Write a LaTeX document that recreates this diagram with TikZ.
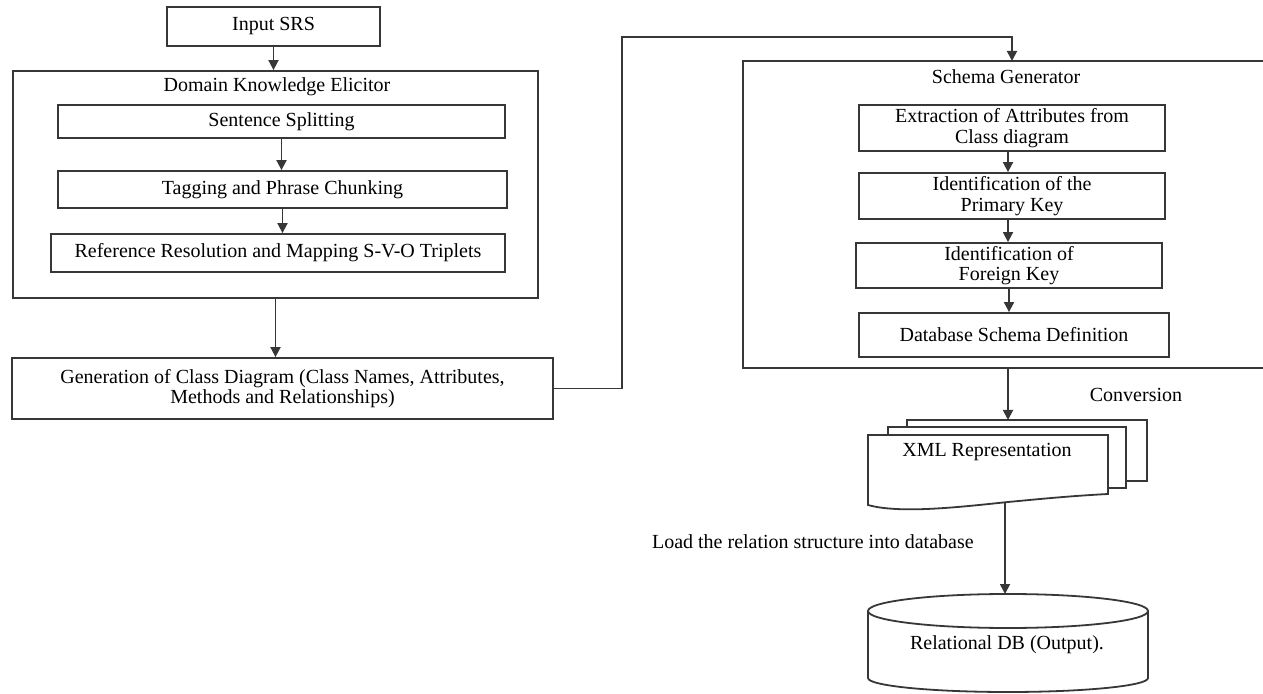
\documentclass[tikz,border=0pt]{standalone}
\usepackage{fontspec}
\setmainfont{Liberation Serif}
\usetikzlibrary{arrows.meta}
\definecolor{lineg}{RGB}{55,55,55}

\begin{document}
\begin{tikzpicture}[x=0.5pt,y=-0.5pt,font=\fontsize{10}{10.2}\selectfont,line join=miter,
  box/.style={draw=lineg,line width=0.9pt,inner sep=0pt,align=center,fill=white},
  arr/.style={draw=lineg,line width=0.9pt,-{Triangle[length=5pt,width=5pt]}},
  wire/.style={draw=lineg,line width=0.9pt}]
\useasboundingbox (0,0) rectangle (1263,694);
\clip (0,0) rectangle (1263,694);
% left column
\node[box,minimum width=106.5pt,minimum height=19.5pt] (srs) at (273.5,26.5) {Input SRS};
\node[box,minimum width=262.5pt,minimum height=113.5pt,fill=none] (dke) at (275.5,184.5) {};
\node (dketitle) at (277,87) {Domain Knowledge Elicitor};
\node[box,minimum width=223.5pt,minimum height=16.5pt] (split) at (281.5,121.5) {Sentence Splitting};
\node[box,minimum width=224.5pt,minimum height=18.5pt] (tag) at (282.5,189.5) {Tagging and Phrase Chunking};
\node[box,minimum width=227pt,minimum height=19pt] (ref) at (278,253) {Reference Resolution and Mapping S-V-O Triplets};
\node[box,minimum width=270.5pt,minimum height=30.5pt] (gen) at (282.5,388.5) {Generation of Class Diagram (Class Names, Attributes,\\Methods and Relationships)};
\draw[arr] (srs.south) -- (srs.south |- dke.north);
\draw[arr] (split.south) -- (split.south |- tag.north);
\draw[arr] (tag.south) -- (tag.south |- ref.north);
\draw[arr] (dke.south) -- (dke.south |- gen.north);
% right column
\node[box,minimum width=278.5pt,minimum height=153.5pt,fill=none] (sg) at (1021.5,214.5) {};
\node (sgtitle) at (1006,77) {Schema Generator};
\node[box,minimum width=153pt,minimum height=23pt] (ext) at (1012,128) {Extraction of Attributes from\\Class diagram};
\node[box,minimum width=153pt,minimum height=23pt] (pk) at (1012,196) {Identification of the\\Primary Key};
\node[box,minimum width=153pt,minimum height=22.5pt] (fk) at (1009,265.5) {Identification of\\Foreign Key};
\node[box,minimum width=155pt,minimum height=22pt] (dsd) at (1014,335) {Database Schema Definition};
\draw[arr] ([xshift=-2pt]ext.south) -- ([xshift=-2pt]ext.south |- pk.north);
\draw[arr] ([xshift=-2pt]pk.south) -- ([xshift=-2pt]pk.south |- fk.north);
\draw[arr] (fk.south) -- (fk.south |- dsd.north);
\coordinate (bend) at (622,37);
\coordinate (sgtop) at (1012,61);
\draw[arr] (gen.east) -| (bend) -| (sgtop);
% xml documents
\draw[wire,fill=white] (907,420) rectangle (1147,481);
\draw[wire,fill=white] (888,427) rectangle (1126,488);
\draw[wire,fill=white] (868,435) -- (1108,435) -- (1108,494)
  .. controls (1070,496) and (1040,499) .. (1008,502)
  .. controls (960,507) and (900,514) .. (868,505) -- cycle;
\node (xml) at (987,452) {XML Representation};
\coordinate (doctop) at (1008,420);
\coordinate (docbot) at (1005,503);
\draw[arr] (sg.south -| doctop) -- (doctop);
\node (conv) at (1136,395) {Conversion};
% database
\draw[wire,fill=white] (868,611) -- (868,678) arc[start angle=180,end angle=0,x radius=140,y radius=14] -- (1148,611);
\draw[wire] (1008,611) ellipse [x radius=140,y radius=17];
\node (db) at (1007,645) {Relational DB (Output).};
\coordinate (dbtop) at (1005,594);
\draw[arr] (docbot) -- (dbtop);
\node[anchor=west] (load) at (645,542) {Load the relation structure into database};
\end{tikzpicture}
\end{document}
